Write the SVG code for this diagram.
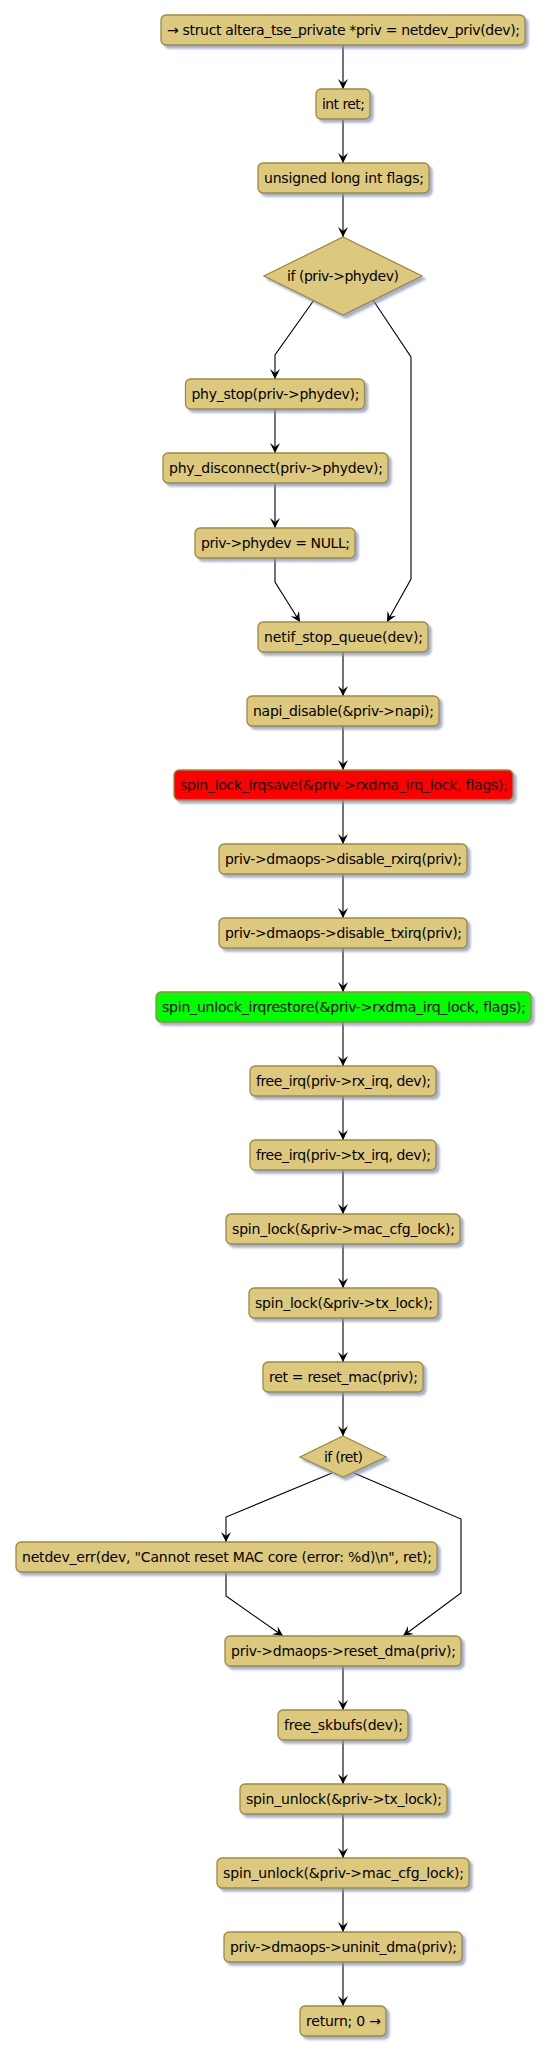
<svg xmlns="http://www.w3.org/2000/svg" width="547" height="2054" viewBox="0 0 547 2054">
<style>
.n rect, .n polygon { fill:#DDC97E; stroke:#9C8A3E; stroke-width:1.3; filter:url(#sh); }
.n.red rect { fill:#FF0000; }
.n.green rect { fill:#00FF00; }
.n text { font-family:"DejaVu Sans",sans-serif; font-size:14px; fill:#000; text-anchor:middle; }
.c path { fill:none; stroke:#000; stroke-width:1.1; marker-end:url(#ah); }
</style>
<defs>
<filter id="sh" x="-10%" y="-20%" width="130%" height="160%">
<feDropShadow dx="3" dy="3" stdDeviation="1.3" flood-color="#7f8fbb" flood-opacity="0.7"/>
</filter>
<marker id="ah" markerUnits="userSpaceOnUse" viewBox="0 -5 10 10" refX="10" refY="0" markerWidth="10" markerHeight="10" orient="auto">
<path d="M0,-5 L10,0 L0,5 L4,0 Z" fill="#000"/>
</marker>
</defs>
<rect width="547" height="2054" fill="#fff"/>
<g id="connectors" class="c">
<path d="M343,45 V89"/>
<path d="M343,119 V163"/>
<path d="M343,193 V237"/>
<path d="M314,300 L275,355 V379"/>
<path d="M373,300 L411,357 V579 L387,622"/>
<path d="M275,409 V453"/>
<path d="M275,483 V528"/>
<path d="M275,558 V582 L300,622"/>
<path d="M343,652 V696"/>
<path d="M343,726 V770"/>
<path d="M343,800 V844"/>
<path d="M343,874 V918"/>
<path d="M343,948 V992"/>
<path d="M343,1022 V1066"/>
<path d="M343,1096 V1140"/>
<path d="M343,1170 V1214"/>
<path d="M343,1244 V1288"/>
<path d="M343,1318 V1362"/>
<path d="M343,1392 V1436"/>
<path d="M332,1473 L226,1517 V1542"/>
<path d="M354,1473 L461,1519 V1593 L403,1636"/>
<path d="M226,1572 V1596 L283,1636"/>
<path d="M343,1666 V1710"/>
<path d="M343,1740 V1784"/>
<path d="M343,1814 V1858"/>
<path d="M343,1888 V1932"/>
<path d="M343,1962 V2006"/>
</g>
<g id="n1" class="n"><rect x="161" y="15" width="364" height="30" rx="5"/><text x="343.5" y="35" textLength="353">→ struct altera_tse_private *priv = netdev_priv(dev);</text></g>
<g id="n2" class="n"><rect x="316" y="89" width="54" height="30" rx="5"/><text x="343.5" y="109" textLength="43">int ret;</text></g>
<g id="n3" class="n"><rect x="258" y="163" width="171" height="30" rx="5"/><text x="344" y="183" textLength="160">unsigned long int flags;</text></g>
<g id="d1" class="n"><polygon points="343,237 422,276 343,315 264,276"/><text x="343" y="281" textLength="112">if (priv-&gt;phydev)</text></g>
<g id="n4" class="n"><rect x="185.5" y="379" width="179" height="30" rx="5"/><text x="275.5" y="399" textLength="168">phy_stop(priv-&gt;phydev);</text></g>
<g id="n5" class="n"><rect x="163" y="453" width="225" height="30" rx="5"/><text x="276" y="473" textLength="214">phy_disconnect(priv-&gt;phydev);</text></g>
<g id="n6" class="n"><rect x="195" y="528" width="160" height="30" rx="5"/><text x="275.5" y="548" textLength="149">priv-&gt;phydev = NULL;</text></g>
<g id="n7" class="n"><rect x="258" y="622" width="170" height="30" rx="5"/><text x="343.5" y="642" textLength="159">netif_stop_queue(dev);</text></g>
<g id="n8" class="n"><rect x="247" y="696" width="192" height="30" rx="5"/><text x="343.5" y="716" textLength="181">napi_disable(&amp;priv-&gt;napi);</text></g>
<g id="n9" class="n red"><rect x="174" y="770" width="339" height="30" rx="5"/><text x="344" y="790" textLength="328">spin_lock_irqsave(&amp;priv-&gt;rxdma_irq_lock, flags);</text></g>
<g id="n10" class="n"><rect x="219" y="844" width="248" height="30" rx="5"/><text x="343.5" y="864" textLength="237">priv-&gt;dmaops-&gt;disable_rxirq(priv);</text></g>
<g id="n11" class="n"><rect x="219" y="918" width="248" height="30" rx="5"/><text x="343.5" y="938" textLength="237">priv-&gt;dmaops-&gt;disable_txirq(priv);</text></g>
<g id="n12" class="n green"><rect x="156" y="992" width="375" height="30" rx="5"/><text x="344" y="1012" textLength="364">spin_unlock_irqrestore(&amp;priv-&gt;rxdma_irq_lock, flags);</text></g>
<g id="n13" class="n"><rect x="250" y="1066" width="186" height="30" rx="5"/><text x="343.5" y="1086" textLength="175">free_irq(priv-&gt;rx_irq, dev);</text></g>
<g id="n14" class="n"><rect x="250" y="1140" width="186" height="30" rx="5"/><text x="343.5" y="1160" textLength="175">free_irq(priv-&gt;tx_irq, dev);</text></g>
<g id="n15" class="n"><rect x="226" y="1214" width="234" height="30" rx="5"/><text x="343.5" y="1234" textLength="223">spin_lock(&amp;priv-&gt;mac_cfg_lock);</text></g>
<g id="n16" class="n"><rect x="249" y="1288" width="189" height="30" rx="5"/><text x="344" y="1308" textLength="178">spin_lock(&amp;priv-&gt;tx_lock);</text></g>
<g id="n17" class="n"><rect x="263" y="1362" width="160" height="30" rx="5"/><text x="343.5" y="1382" textLength="149">ret = reset_mac(priv);</text></g>
<g id="d2" class="n"><polygon points="343,1436 386,1457 343,1477 300,1457"/><text x="343.5" y="1462" textLength="39">if (ret)</text></g>
<g id="n18" class="n"><rect x="16" y="1542" width="421" height="30" rx="5"/><text x="227" y="1562" textLength="410">netdev_err(dev, "Cannot reset MAC core (error: %d)\n", ret);</text></g>
<g id="n19" class="n"><rect x="225" y="1636" width="236" height="30" rx="5"/><text x="343.5" y="1656" textLength="225">priv-&gt;dmaops-&gt;reset_dma(priv);</text></g>
<g id="n20" class="n"><rect x="278" y="1710" width="130" height="30" rx="5"/><text x="343.5" y="1730" textLength="119">free_skbufs(dev);</text></g>
<g id="n21" class="n"><rect x="240" y="1784" width="207" height="30" rx="5"/><text x="344" y="1804" textLength="196">spin_unlock(&amp;priv-&gt;tx_lock);</text></g>
<g id="n22" class="n"><rect x="217" y="1858" width="252" height="30" rx="5"/><text x="343.5" y="1878" textLength="241">spin_unlock(&amp;priv-&gt;mac_cfg_lock);</text></g>
<g id="n23" class="n"><rect x="224" y="1932" width="238" height="30" rx="5"/><text x="343.5" y="1952" textLength="227">priv-&gt;dmaops-&gt;uninit_dma(priv);</text></g>
<g id="n24" class="n"><rect x="300" y="2006" width="86" height="30" rx="5"/><text x="343.5" y="2026" textLength="75">return; 0 →</text></g>
</svg>
